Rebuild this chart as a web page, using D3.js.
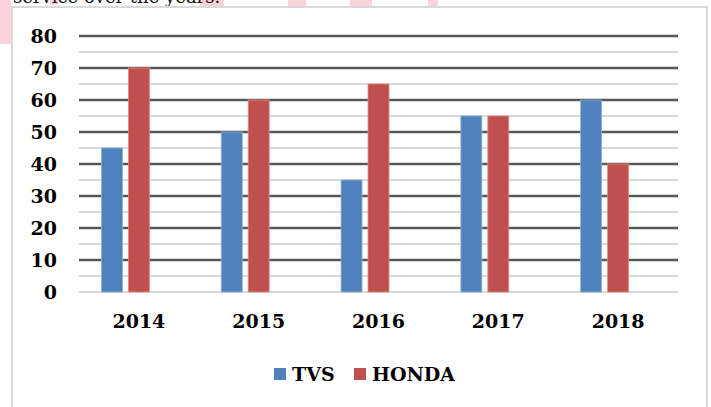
<!DOCTYPE html>
<html>
<head>
<meta charset="utf-8">
<script src="https://cdn.jsdelivr.net/npm/d3@7"></script>
<style>
  body { margin: 0; background: #fff; }
  svg { display: block; }
  text { font-family: "DejaVu Serif", serif; }
</style>
</head>
<body>
<script>
//------------------------------ data ------------------------------
const years = ["2014", "2015", "2016", "2017", "2018"];
const series = ["TVS", "HONDA"];
const tvs = [45, 50, 35, 55, 60];
const honda = [70, 60, 65, 55, 40];
const yTicks = [0, 10, 20, 30, 40, 50, 60, 70, 80];
const colors = ["#4f81bd", "#c0504d"];

//------------------------------ init ------------------------------
const width = 711, height = 407;
const plotL = 79, plotR = 678, plotT = 36, plotB = 292;

const svg = d3.select("body").append("svg")
    .attr("width", width)
    .attr("height", height);

// faint pink watermark bits at the top of the clipped page
const pink = [[0, 0, 11, 44], [50, 0, 8, 5], [200, 0, 24, 9], [288, 0, 18, 9], [350, 0, 22, 6], [428, 0, 10, 6]];
svg.selectAll("rect.wm").data(pink).enter().append("rect")
    .attr("class", "wm")
    .attr("x", d => d[0]).attr("y", d => d[1])
    .attr("width", d => d[2]).attr("height", d => d[3])
    .attr("fill", "#fbd3da");

// cut-off line of text above the chart
svg.append("text")
    .attr("x", 13).attr("y", 3)
    .attr("font-size", 18)
    .attr("fill", "#111")
    .text("service over the years.");

// chart frame
svg.append("rect")
    .attr("x", 12).attr("y", 7)
    .attr("width", 695).attr("height", 412)
    .attr("fill", "#fff")
    .attr("stroke", "#d9d9d9")
    .attr("stroke-width", 2);

//------------------------------ scales ------------------------------
const y = d3.scaleLinear().domain([0, 80]).range([plotB, plotT]);
const x = d3.scaleBand().domain(years).range([plotL, plotR]);
const bw = x.bandwidth();
// excel clustered layout: 3 slots, the third one empty
const xs = d3.scaleBand().domain([...series, "empty"])
    .range([bw * 0.1875, bw * 0.8125])
    .paddingInner(0.222);

//------------------------------ grid ------------------------------
const minor = d3.range(5, 80, 10);
svg.append("g").selectAll("line").data(minor).enter().append("line")
    .attr("x1", plotL).attr("x2", plotR)
    .attr("y1", d => y(d)).attr("y2", d => y(d))
    .attr("stroke", "#d9d9d9").attr("stroke-width", 2);

svg.append("g").selectAll("line").data(yTicks).enter().append("line")
    .attr("x1", plotL).attr("x2", plotR)
    .attr("y1", d => y(d)).attr("y2", d => y(d))
    .attr("stroke", d => d === 0 ? "#d9d9d9" : "#595959")
    .attr("stroke-width", d => d === 0 ? 2 : 2.6);

//------------------------------ bars ------------------------------
const values = [tvs, honda];
series.forEach((s, i) => {
  svg.append("g").selectAll("rect").data(values[i]).enter().append("rect")
    .attr("x", (d, j) => x(years[j]) + xs(s))
    .attr("y", d => y(d))
    .attr("width", xs.bandwidth())
    .attr("height", d => y(0) - y(d))
    .attr("fill", colors[i])
    .attr("stroke", i === 0 ? "#8eaedb" : "#dc8a88")
    .attr("stroke-width", 0.8);
});

//------------------------------ axes ------------------------------
const yAxis = d3.axisLeft(y).tickValues(yTicks).tickSize(0).tickPadding(0);
svg.append("g")
    .attr("transform", `translate(57,0)`)
    .call(yAxis)
    .call(g => g.select(".domain").remove())
    .selectAll("text")
    .attr("font-family", "DejaVu Serif")
    .attr("font-weight", "bold")
    .attr("font-size", 19)
    .attr("fill", "#000");

const xAxis = d3.axisBottom(x).tickSize(0).tickPadding(0);
svg.append("g")
    .attr("transform", `translate(0,314)`)
    .call(xAxis)
    .call(g => g.select(".domain").remove())
    .selectAll("text")
    .attr("font-family", "DejaVu Serif")
    .attr("font-weight", "bold")
    .attr("font-size", 19)
    .attr("fill", "#000");

//------------------------------ legend ------------------------------
const legendX = [274, 354];
const legend = svg.append("g");
series.forEach((s, i) => {
  legend.append("rect")
    .attr("x", legendX[i]).attr("y", 368)
    .attr("width", 12).attr("height", 12)
    .attr("fill", colors[i]);
  legend.append("text")
    .attr("x", legendX[i] + 18).attr("y", 381)
    .attr("font-weight", "bold")
    .attr("font-size", 19)
    .text(s);
});
</script>
</body>
</html>
